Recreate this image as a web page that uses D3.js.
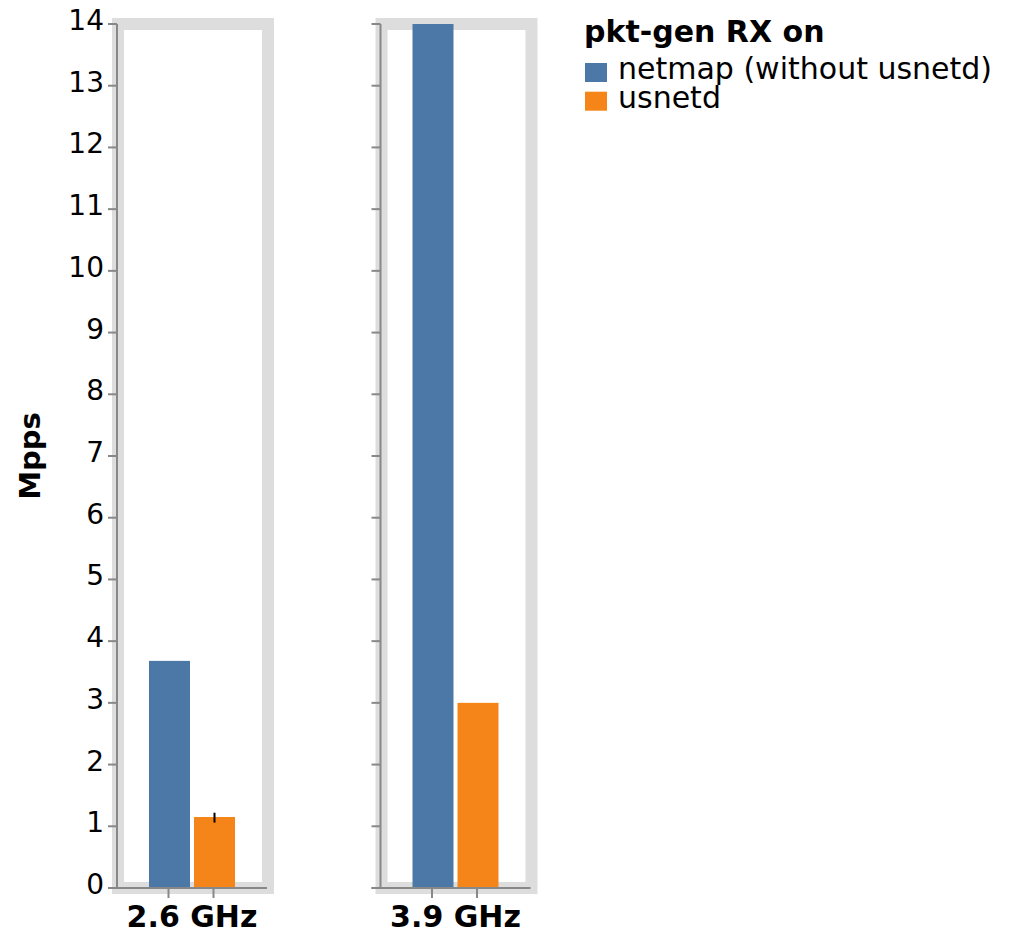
<!DOCTYPE html>
<html>
<head>
<meta charset="utf-8">
<script src="https://cdn.jsdelivr.net/npm/d3@7"></script>
<style>
  html, body { margin: 0; padding: 0; background: #fff; }
  svg { display: block; font-family: "DejaVu Sans", sans-serif; }
</style>
</head>
<body>
<svg id="chart" width="1014" height="930"></svg>
<script>
// CPU frequency facets, one panel each
const frequencies = ["2.6 GHz", "3.9 GHz"];
// Series drawn inside every panel
const series = ["netmap (without usnetd)", "usnetd"];
// Mean receive rate in Mpps, per frequency, per series
const netmapValues = [3.68, 14.0];
const usnetdValues = [1.15, 3.0];
// Error interval on the usnetd bar at 2.6 GHz (low, high)
const usnetdErrLow = [1.06, null];
const usnetdErrHigh = [1.22, null];
const yTicks = [0, 1, 2, 3, 4, 5, 6, 7, 8, 9, 10, 11, 12, 13, 14];
const seriesColors = ["#4c78a8", "#f58518"];
const legendTitle = "pkt-gen RX on";
const yTitle = "Mpps";

const svg = d3.select("#chart");

const y = d3.scaleLinear().domain([0, 14]).range([888, 24]);
const panelX = d3.scalePoint().domain(frequencies).range([118, 381.5]);
const panelW = 150;
const color = d3.scaleOrdinal().domain(series).range(seriesColors);

const rows = frequencies.map((f, i) => ({
  freq: f,
  bars: [
    { s: series[0], v: netmapValues[i], lo: null, hi: null },
    { s: series[1], v: usnetdValues[i], lo: usnetdErrLow[i], hi: usnetdErrHigh[i] }
  ]
}));

rows.forEach((row, pi) => {
  const x0 = panelX(row.freq);
  const g = svg.append("g");
  const cx = x0 + 74;
  const xs = d3.scaleBand().domain(series).range([cx - 43, cx + 43])
    .paddingInner(4 / 45).paddingOuter(0);

  // panel frame
  g.append("rect")
    .attr("x", x0).attr("y", y(14))
    .attr("width", panelW).attr("height", y(0) - y(14))
    .attr("fill", "#fff").attr("stroke", "#dddddd").attr("stroke-width", 12);

  // bars
  g.selectAll("rect.bar").data(row.bars).join("rect")
    .attr("class", "bar")
    .attr("x", d => xs(d.s))
    .attr("width", xs.bandwidth())
    .attr("y", d => y(d.v))
    .attr("height", d => y(0) - y(d.v))
    .attr("fill", d => color(d.s));

  // error bars
  g.selectAll("line.err").data(row.bars.filter(d => d.lo != null)).join("line")
    .attr("class", "err")
    .attr("x1", d => xs(d.s) + xs.bandwidth() / 2)
    .attr("x2", d => xs(d.s) + xs.bandwidth() / 2)
    .attr("y1", d => y(d.lo)).attr("y2", d => y(d.hi))
    .attr("stroke", "#000").attr("stroke-width", 2);

  // y axis
  const ax = x0 - 1;
  g.append("line")
    .attr("x1", ax).attr("x2", ax).attr("y1", y(14)).attr("y2", y(0))
    .attr("stroke", "#888").attr("stroke-width", 2);
  g.selectAll("line.yt").data(yTicks).join("line")
    .attr("class", "yt")
    .attr("x1", ax - 9).attr("x2", ax)
    .attr("y1", d => y(d)).attr("y2", d => y(d))
    .attr("stroke", "#888").attr("stroke-width", 2);
  if (pi === 0) {
    g.selectAll("text.yl").data(yTicks).join("text")
      .attr("class", "yl")
      .attr("x", ax - 13).attr("y", d => y(d) + 6)
      .attr("text-anchor", "end")
      .attr("font-size", 28).attr("fill", "#000")
      .text(d => d);
  }

  // x axis
  g.append("line")
    .attr("x1", x0 - 10).attr("x2", x0 + 149).attr("y1", y(0)).attr("y2", y(0))
    .attr("stroke", "#888").attr("stroke-width", 2);
  g.selectAll("line.xt").data(series).join("line")
    .attr("class", "xt")
    .attr("x1", d => xs(d) + xs.bandwidth() / 2 - 1)
    .attr("x2", d => xs(d) + xs.bandwidth() / 2 - 1)
    .attr("y1", y(0)).attr("y2", y(0) + 10)
    .attr("stroke", "#888").attr("stroke-width", 2);
  g.append("text")
    .attr("x", cx).attr("y", 927)
    .attr("text-anchor", "middle")
    .attr("font-size", 30).attr("font-weight", "bold")
    .text(row.freq);
});

// y title
svg.append("text")
  .attr("transform", `translate(40,${(y(0) + y(14)) / 2}) rotate(-90)`)
  .attr("text-anchor", "middle")
  .attr("font-size", 29).attr("font-weight", "bold")
  .text(yTitle);

// legend
const lg = svg.append("g").attr("transform", "translate(584,0)");
lg.append("text")
  .attr("x", 0).attr("y", 42)
  .attr("font-size", 30).attr("font-weight", "bold")
  .text(legendTitle);
const items = lg.selectAll("g.item").data(series).join("g")
  .attr("class", "item")
  .attr("transform", (d, i) => `translate(0,${63 + i * 28.7})`);
items.append("rect")
  .attr("x", 1).attr("y", 0).attr("width", 22).attr("height", 19)
  .attr("fill", d => color(d));
items.append("text")
  .attr("x", 34).attr("y", 16)
  .attr("font-size", 30)
  .text(d => d);
</script>
</body>
</html>
